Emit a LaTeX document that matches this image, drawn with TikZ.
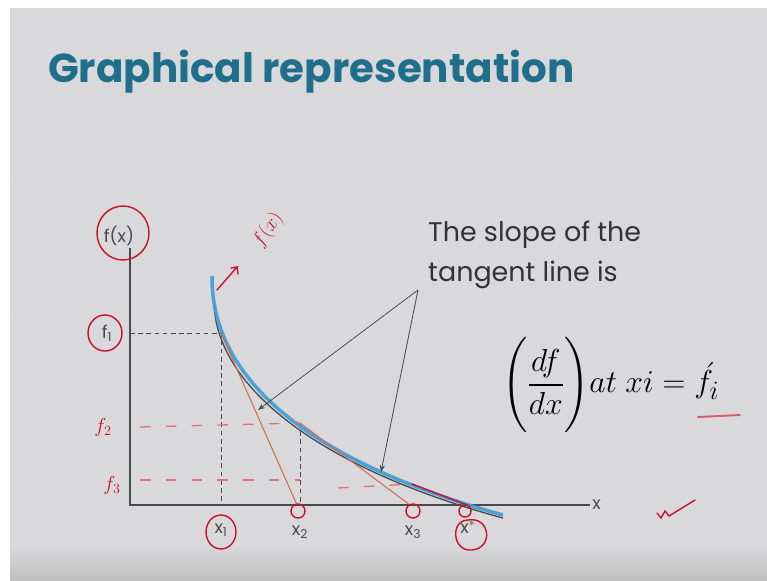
\documentclass[tikz,border=0pt]{standalone}
\usepackage{amsmath}
\usepackage{fontspec}
\setmainfont{Poppins}
\usetikzlibrary{arrows.meta, positioning, calc}
\definecolor{slidegray}{HTML}{D9D9DB}
\definecolor{titleteal}{HTML}{1F6E8C}
\definecolor{curveblue}{HTML}{3D9BD6}
\definecolor{tanred}{HTML}{D46A55}
\definecolor{inkred}{HTML}{C8102E}
\definecolor{axisgray}{HTML}{4A4A4A}

\begin{document}
\begin{tikzpicture}[x=0.03cm, y=-0.03cm,
  lbl/.style={font=\fontsize{15}{15}\selectfont, text=axisgray, inner sep=1pt},
  inklbl/.style={text=inkred, font=\fontsize{18}{18}\selectfont, inner sep=1pt},
  ink/.style={draw=inkred, line width=1.2pt, line cap=round},
  guide/.style={axisgray, line width=0.8pt, dash pattern=on 4pt off 3pt},
  inkdash/.style={inkred!60, line width=1.1pt, dash pattern=on 9pt off 13pt},
  tangent/.style={tanred, line width=0.9pt},
  callout/.style={-{Stealth[length=6pt]}, axisgray, line width=0.7pt}
]
\useasboundingbox (0,0) rectangle (767,580);

% === Slide background ===
\fill[white] (0,0) rectangle (767,580);
\fill[slidegray] (10,8) rectangle (767,580);
\shade[top color=slidegray, bottom color=gray!50] (10,545) rectangle (767,580);
\draw[gray!30, line width=0.8pt] (10,180) -- (70,118);
\draw[gray!30, line width=0.8pt] (10,318) -- (35,292);

% === Title ===
\node[anchor=west, text=titleteal, font=\fontsize{34.5}{34.5}\selectfont\bfseries] (title) at (44,72) {Graphical representation};

% === Axes ===
\coordinate (O) at (130,505);
\coordinate (ytop) at (130,248);
\coordinate (xend) at (590,505);
\draw[axisgray, line width=1.4pt] (ytop) -- (O) -- (xend);
\node[lbl, anchor=west] (xlab) at (591,505) {x};
\node[lbl] (fx) at (119,236) {f(x)};
\node[lbl] (fone) at (107,333) {f\textsubscript{1}};
\node[lbl] (xone) at (221,530) {x\textsubscript{1}};
\node[lbl] (xtwo) at (300,532) {x\textsubscript{2}};
\node[lbl] (xthree) at (413,532) {x\textsubscript{3}};
\node[lbl] (xstar) at (468,527) {x$^{*}$};

% === Points on the curve ===
\coordinate (P1) at (221,333);
\coordinate (P2) at (300,423);
\coordinate (P3) at (412,484);
\coordinate (X2) at (297,505);
\coordinate (X3) at (410,505);
\coordinate (XS) at (467,505);

% === Guides to the axes ===
\draw[guide] (130,333) -- (P1) -- (221,505);
\draw[guide] (P2) -- (300,505);

% === Curve ===
\draw[axisgray, line width=1.1pt] (214,306) .. controls (220,398) and (340,474) .. (503,518);
\draw[curveblue, line width=3pt, opacity=0.9] (212,276) .. controls (211,395) and (340,470) .. (503,515);

% === Tangent lines ===
\draw[tangent] (P1) -- (X2);
\draw[tangent] (P2) -- (X3);

% === Callout ===
\node[anchor=north west, align=left, text=black!80, inner sep=0pt,
      font=\fontsize{23}{34}\selectfont] (note) at (428,221) {The slope of the\\tangent line is};
\coordinate (apex) at (418,290);
\coordinate (hitone) at (258,410);
\coordinate (hittwo) at (381,472);
\draw[callout] (apex) -- (hitone);
\draw[callout] (apex) -- (hittwo);

\node[anchor=west, inner sep=0pt, scale=1.09, font=\fontsize{24.88}{25}\selectfont] (slope) at (502,385)
  {$\displaystyle\Biggl(\frac{df}{dx}\Biggr) at\ xi = \acute{f}_{i}$};

% === Hand-written marks ===
\draw[ink] (123,233) ellipse (26 and 27);
\draw[ink] (105,333) ellipse (17 and 18);
\draw[ink] (221,532) ellipse (15 and 17);
\draw[ink] (298,511) circle (7);
\draw[ink] (413,511) circle (7);
\draw[ink] (465,511) circle (6);
\draw[ink] (468,520) .. controls (490,516) and (494,548) .. (472,550) .. controls (452,552) and (450,520) .. (468,520);
\node[inklbl] (ftwo) at (103,427) {$f_2$};
\node[inklbl] (fthree) at (112,485) {$f_3$};
\node[inklbl, rotate=55] (fxink) at (268,230) {$f(x)$};
\draw[inkdash] (140,427) -- (P2);
\draw[inkdash] (140,480) -- (300,480);
\draw[inkdash] (338,488) -- (P3);
\draw[ink] (P3) -- (XS);
\draw[ink] (217,290) -- (237,267) -- (231,268);
\draw[ink] (237,267) -- (238,274);
\draw[ink] (657,513) -- (661,518) -- (665,511) -- (669,516) -- (695,500);
\draw[ink, inkred!70, line width=1.6pt] (698,417) -- (740,415);
\end{tikzpicture}
\end{document}
